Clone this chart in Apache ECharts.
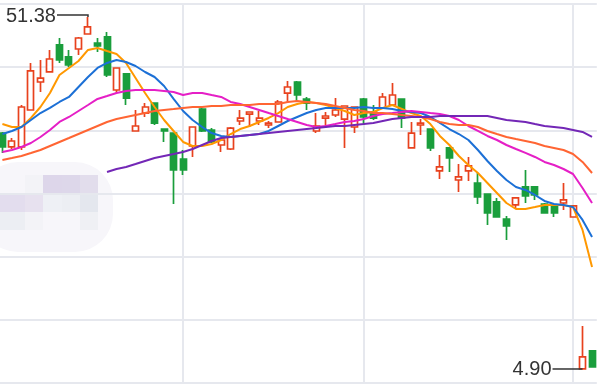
<!DOCTYPE html>
<html>
<head>
<meta charset="utf-8">
<script src="https://cdn.jsdelivr.net/npm/echarts@6/dist/echarts.min.js"></script>
<style>html,body{margin:0;padding:0;background:#fff}#c{width:600px;height:384px}</style>
</head>
<body>
<div id="c"></div>
<script>
// [open, close, low, high]
const candles = [
[36.06,34.22,33.42,36.20],[34.22,35.01,33.95,35.40],[34.22,39.50,33.82,39.76],[39.10,44.26,39.10,45.31],
[42.80,43.32,41.48,45.71],[44.13,45.84,44.13,47.03],[47.69,45.71,45.31,48.61],[46.11,45.05,44.79,47.03],
[47.16,48.61,46.37,48.75],[49.14,50.07,49.14,51.38],[47.95,47.56,46.77,48.61],[48.75,43.73,43.47,49.41],
[41.74,44.65,41.34,44.65],[43.86,40.68,39.76,43.99],[36.33,36.99,36.33,39.10],[38.70,39.50,38.18,40.02],
[40.02,37.38,37.12,40.02],[36.59,36.33,34.88,36.59],[36.06,31.18,26.69,36.06],[32.63,31.18,30.52,33.82],
[34.35,36.86,32.90,36.86],[39.23,36.33,36.20,39.36],[36.46,34.88,34.74,36.72],[34.48,35.14,33.56,35.27],
[33.95,36.72,33.82,36.86],[37.65,38.04,37.12,39.10],[38.57,38.84,36.86,38.84],[37.65,38.04,37.12,38.97],
[37.12,37.38,36.72,37.65],[37.52,40.16,37.52,40.42],[41.34,42.14,40.02,42.93],[42.80,41.08,40.16,42.93],
[40.55,40.02,39.10,40.82],[36.33,36.99,36.06,38.70],[38.04,38.31,36.72,38.84],[38.44,39.10,38.18,40.68],
[37.91,39.63,34.09,39.63],[36.86,39.50,36.06,39.50],[40.55,38.18,37.12,40.68],[38.84,38.04,37.78,39.76],
[39.36,40.82,39.36,41.34],[39.76,41.08,39.76,42.67],[40.55,38.04,36.72,40.55],[34.09,36.06,34.09,37.52],
[37.12,37.38,35.80,37.91],[36.59,34.09,33.69,36.59],[31.05,31.58,29.99,33.16],[34.09,32.76,30.92,34.22],
[29.86,30.26,28.28,31.97],[31.05,31.71,29.73,32.90],[29.46,27.62,26.69,30.78],[28.01,25.50,23.92,28.01],
[26.96,24.97,24.97,27.49],[24.71,23.79,21.94,25.10],[26.56,27.49,26.17,27.62],[28.94,27.75,26.82,31.18],
[28.94,27.88,27.22,29.07],[26.69,25.50,25.50,26.82],[26.56,25.50,24.97,26.56],[26.82,27.22,25.90,29.46],
[24.97,26.43,24.97,26.56],[4.92,6.49,4.90,10.58],[7.28,5.17,5.17,7.41]
];
const ma5 = [37.25,36.86,36.86,38.05,39.50,41.34,43.73,44.65,45.57,47.03,47.29,46.89,46.50,45.31,43.33,41.34,39.50,37.78,36.33,34.88,
34.35,34.35,34.61,35.14,35.93,36.59,36.99,37.52,38.05,38.70,39.50,39.90,40.16,40.03,39.76,39.37,38.97,38.44,38.70,38.84,
39.37,39.76,39.23,38.70,38.31,37.25,35.67,34.48,33.03,31.84,30.78,29.46,28.14,26.82,26.03,26.03,26.29,26.56,26.56,26.56,
26.29,23.26,18.37];
const ma10 = [35.93,36.33,36.86,37.78,38.70,39.37,40.16,40.82,42.14,43.46,44.65,45.31,45.71,45.44,44.91,44.12,43.46,42.27,40.56,38.97,
37.78,36.86,36.06,35.67,35.54,35.67,35.80,35.93,36.33,36.99,37.65,38.18,38.70,39.10,39.37,39.37,39.37,39.37,39.50,39.37,
39.37,39.23,38.97,38.84,38.70,38.18,37.39,36.59,35.93,35.14,33.82,32.37,31.05,29.86,28.94,28.54,27.88,27.09,26.69,26.56,
26.29,24.58,22.33];
const ma20 = [33.56,33.82,34.22,34.74,35.54,36.46,37.52,38.18,38.97,39.76,40.56,40.95,41.35,41.61,41.74,41.74,41.74,41.61,41.48,41.08,
41.35,41.35,41.08,40.82,40.16,39.90,39.50,39.10,38.70,38.31,37.91,37.52,37.12,36.86,36.99,37.25,37.52,37.65,37.91,38.31,
38.57,38.70,38.84,38.97,38.84,38.70,38.57,38.31,37.78,36.99,36.33,35.67,35.14,34.48,33.95,33.43,32.90,32.24,31.84,31.31,
30.65,28.80,26.82];
const ma30 = [32.50,32.76,33.03,33.42,33.82,34.35,34.88,35.40,35.93,36.46,36.99,37.52,37.91,38.18,38.44,38.70,38.97,39.10,39.23,39.37,
39.50,39.50,39.63,39.63,39.76,39.76,39.76,39.90,39.90,39.90,40.16,40.29,40.16,40.03,39.90,39.63,39.37,39.10,38.97,38.70,
38.70,38.57,38.44,38.31,38.18,37.91,37.52,37.25,37.12,37.12,36.86,36.33,35.93,35.54,35.27,35.01,34.74,34.35,34.09,33.82,
33.29,32.24,30.78];
const ma60 = ['-','-','-','-','-','-','-','-','-','-','-',
30.92,31.31,31.58,31.97,32.37,32.76,33.03,33.29,33.56,33.95,34.48,35.01,35.40,35.54,35.67,35.80,35.93,36.06,36.20,36.33,
36.46,36.59,36.72,36.86,36.99,36.99,37.12,37.25,37.39,37.65,37.91,38.05,38.18,38.18,38.18,38.31,38.31,38.31,38.31,38.31,
38.31,38.05,37.78,37.65,37.52,37.25,36.99,36.86,36.72,36.46,36.20,35.54];
const categories = candles.map((_, i) => 'D' + (i + 1));
const periodStartIdx = [19, 38, 60];

const RED = '#e8411d', GREEN = '#1a9e3c', GRID = '#e6e8ee';
const chart = echarts.init(document.getElementById('c'), null, {renderer: 'canvas'});

function maSeries(name, data, color) {
  return {name, type: 'line', data, symbol: 'none', z: 3, silent: true,
    lineStyle: {color, width: 2}, itemStyle: {color}};
}

chart.setOption({
  animation: false,
  backgroundColor: '#fff',
  grid: {left: -2.35, right: 3.2, top: 4, bottom: 1, outerBoundsMode: 'none'},
  xAxis: {type: 'category', data: categories, boundaryGap: true,
    axisLine: {show: false}, axisTick: {show: false}, axisLabel: {show: false}, splitLine: {show: false}},
  yAxis: [
    {type: 'value', min: 3.05, max: 53.10, axisLine: {show: false}, axisTick: {show: false},
      axisLabel: {show: false}, splitLine: {show: false}},
    {type: 'value', min: 0, max: 6, interval: 1, axisLine: {show: false}, axisTick: {show: false},
      axisLabel: {show: false}, splitLine: {show: true, lineStyle: {color: GRID, width: 2}}}
  ],
  series: [
    {type: 'candlestick', data: candles, barWidth: 6.5, z: 2,
      itemStyle: {color: '#ffffff', color0: GREEN, borderColor: RED, borderColor0: GREEN, borderWidth: 1.7},
      markLine: {silent: true, z: 1, symbol: ['none', 'none'], label: {show: false},
        lineStyle: {color: GRID, width: 2, type: 'solid'},
        data: periodStartIdx.map(i => ({xAxis: i}))}
    },
    maSeries('MA5', ma5, '#ff9800'),
    maSeries('MA10', ma10, '#1c70d6'),
    maSeries('MA20', ma20, '#e51fc6'),
    maSeries('MA30', ma30, '#ff6533'),
    maSeries('MA60', ma60, '#7327b6')
  ]
});

// max / min annotations placed through the chart's scales
let hiIdx = 0, loIdx = 0;
candles.forEach((c, i) => {
  if (c[3] > candles[hiIdx][3]) hiIdx = i;
  if (c[2] < candles[loIdx][2]) loIdx = i;
});
const hp = chart.convertToPixel({seriesIndex: 0}, [hiIdx, candles[hiIdx][3]]);
const lp = chart.convertToPixel({seriesIndex: 0}, [loIdx, candles[loIdx][2]]);
const font = '20px "Liberation Sans", Arial, sans-serif';

const blur = [
  [43,175,19,18,'#ddd6ea'],[62,175,18,18,'#ddd7ea'],[80,175,18,18,'#e2ddec'],[25,175,18,18,'#f3f3f7'],
  [0,193,25,19,'#e3ddee'],[25,193,18,19,'#e7e1ef'],[43,193,19,19,'#eef0f5'],[62,193,18,19,'#eceef3'],[80,193,18,19,'#e4e7ee'],
  [0,212,25,18,'#eceef3'],[25,212,18,18,'#f3f3f7'],[80,212,18,18,'#eff0f4']
];
const graphics = [
  {type: 'rect', z: -1, silent: true, shape: {x: -20, y: 162, width: 133, height: 90, r: 38}, style: {fill: '#f7f6fa'}}
].concat(blur.map(b => ({type: 'rect', z: -1, silent: true, shape: {x: b[0], y: b[1], width: b[2], height: b[3]}, style: {fill: b[4]}})));

graphics.push(
  {type: 'polyline', z: 10, silent: true, shape: {points: [[hp[0], hp[1]], [hp[0], hp[1] - 2], [hp[0] - 31, hp[1] - 2]]},
    style: {stroke: '#333', lineWidth: 1.5, fill: 'none'}},
  {type: 'text', z: 10, silent: true, x: hp[0] - 32, y: hp[1] - 1,
    style: {text: candles[hiIdx][3].toFixed(2), fill: '#333', font, align: 'right', verticalAlign: 'middle'}},
  {type: 'polyline', z: 10, silent: true, shape: {points: [[lp[0], lp[1]], [lp[0] - 30, lp[1]]]},
    style: {stroke: '#333', lineWidth: 1.5, fill: 'none'}},
  {type: 'text', z: 10, silent: true, x: lp[0] - 31, y: lp[1],
    style: {text: candles[loIdx][2].toFixed(2), fill: '#333', font, align: 'right', verticalAlign: 'middle'}}
);
chart.setOption({graphic: graphics});
</script>
</body>
</html>
